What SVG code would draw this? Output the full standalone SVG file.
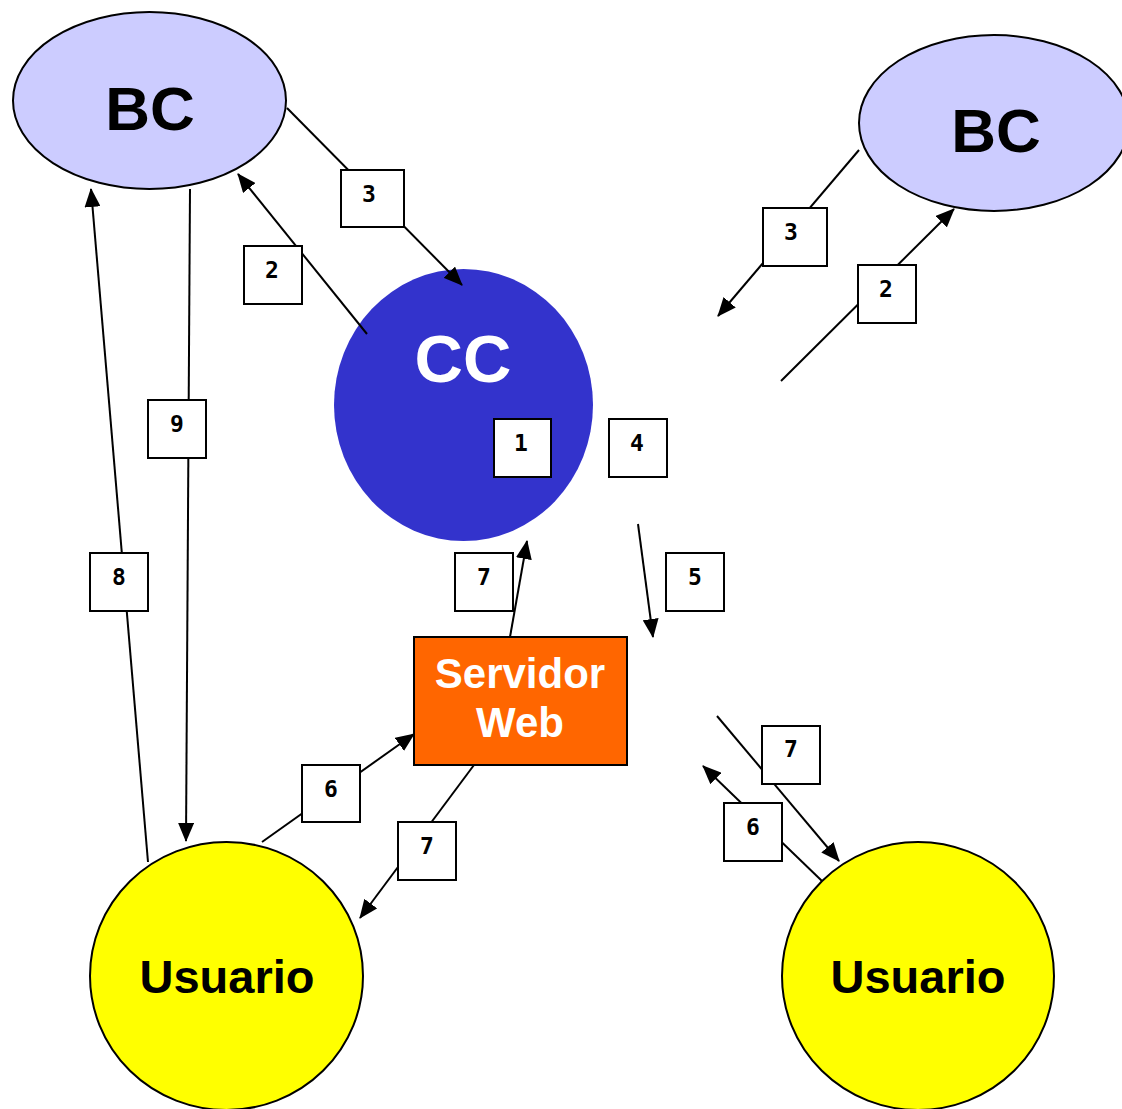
<svg xmlns="http://www.w3.org/2000/svg" width="1122" height="1109" viewBox="0 0 1122 1109">
<style>
.node{stroke:#000;stroke-width:2}
.big{font-family:"Liberation Sans",Arial,sans-serif;font-weight:bold;text-anchor:middle}
.conn line{stroke:#000;stroke-width:2;fill:none}
.lbl rect{fill:#fff;stroke:#000;stroke-width:2}
.lbl text{font-family:"DejaVu Sans Mono","Liberation Mono",monospace;font-weight:bold;font-size:23px;text-anchor:middle}
</style>
<defs>
<marker id="ah" markerUnits="userSpaceOnUse" markerWidth="20" markerHeight="16" refX="18" refY="8" orient="auto">
<path d="M0,0 L19,8 L0,16 Z" fill="#000"/>
</marker>
</defs>
<rect width="1122" height="1109" fill="#fff"/>
<g id="bc-left"><ellipse class="node" cx="149.5" cy="100.5" rx="136.5" ry="88.5" fill="#CCCCFF"/><text class="big" x="150" y="130" font-size="62">BC</text></g>
<g id="bc-right"><ellipse class="node" cx="994" cy="123" rx="135" ry="88" fill="#CCCCFF"/><text class="big" x="996" y="152" font-size="62">BC</text></g>
<g id="cc"><ellipse cx="463.5" cy="405" rx="129.5" ry="136" fill="#3333CC"/><text class="big" x="463" y="382" font-size="67" fill="#fff">CC</text></g>
<g id="servidor"><rect class="node" x="414" y="637" width="213" height="128" fill="#FF6600"/><text class="big" x="520" y="688" font-size="42" fill="#fff">Servidor</text><text class="big" x="520" y="737" font-size="42" fill="#fff">Web</text></g>
<g id="usuario-left"><ellipse class="node" cx="226.5" cy="976" rx="136.5" ry="134" fill="#FFFF00"/><text class="big" x="227" y="993" font-size="47">Usuario</text></g>
<g id="usuario-right"><ellipse class="node" cx="918" cy="976" rx="136" ry="134" fill="#FFFF00"/><text class="big" x="918" y="993" font-size="47">Usuario</text></g>
<g class="conn" id="connectors">
<line x1="287" y1="108" x2="462" y2="285" marker-end="url(#ah)"/>
<line x1="367" y1="334" x2="238" y2="174" marker-end="url(#ah)"/>
<line x1="859" y1="150" x2="718" y2="316" marker-end="url(#ah)"/>
<line x1="781" y1="381" x2="954" y2="209" marker-end="url(#ah)"/>
<line x1="190" y1="189" x2="186" y2="841" marker-end="url(#ah)"/>
<line x1="148" y1="862" x2="91" y2="189" marker-end="url(#ah)"/>
<line x1="510" y1="637" x2="527" y2="541" marker-end="url(#ah)"/>
<line x1="638" y1="524" x2="653" y2="637" marker-end="url(#ah)"/>
<line x1="262" y1="842" x2="414" y2="734" marker-end="url(#ah)"/>
<line x1="474" y1="765" x2="360" y2="918" marker-end="url(#ah)"/>
<line x1="717" y1="716" x2="839" y2="861" marker-end="url(#ah)"/>
<line x1="822" y1="881" x2="703" y2="766" marker-end="url(#ah)"/>
</g>
<g class="lbl" id="labels">
<g><rect x="341" y="170" width="63" height="57"/><text x="369" y="202">3</text></g>
<g><rect x="244" y="246" width="58" height="58"/><text x="272" y="278">2</text></g>
<g><rect x="763" y="208" width="64" height="58"/><text x="791" y="240">3</text></g>
<g><rect x="858" y="265" width="58" height="58"/><text x="886" y="297">2</text></g>
<g><rect x="494" y="419" width="57" height="58"/><text x="521" y="451">1</text></g>
<g><rect x="609" y="419" width="58" height="58"/><text x="637" y="451">4</text></g>
<g><rect x="148" y="400" width="58" height="58"/><text x="177" y="432">9</text></g>
<g><rect x="90" y="553" width="58" height="58"/><text x="119" y="585">8</text></g>
<g><rect x="455" y="553" width="58" height="58"/><text x="484" y="585">7</text></g>
<g><rect x="666" y="553" width="58" height="58"/><text x="695" y="585">5</text></g>
<g><rect x="762" y="726" width="58" height="58"/><text x="791" y="757">7</text></g>
<g><rect x="724" y="803" width="58" height="58"/><text x="753" y="835">6</text></g>
<g><rect x="302" y="765" width="58" height="57"/><text x="331" y="797">6</text></g>
<g><rect x="398" y="822" width="58" height="58"/><text x="427" y="854">7</text></g>
</g>
</svg>
